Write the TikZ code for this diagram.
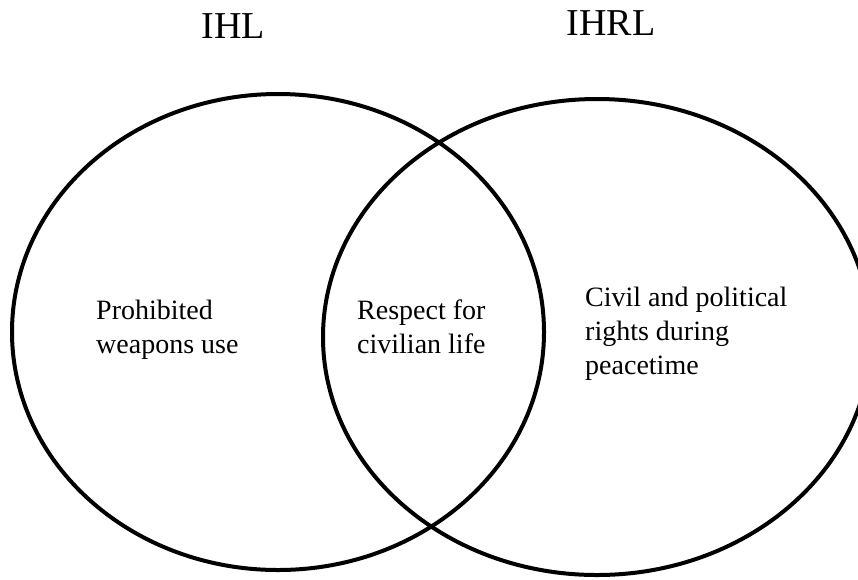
\documentclass[tikz,border=0pt]{standalone}
\usepackage{fontspec}
\setmainfont{Liberation Serif}
\begin{document}
\begin{tikzpicture}[x=1pt,y=-1pt,
  setring/.style={draw=black,line width=4pt},
  titletext/.style={inner sep=0pt,anchor=base,font=\fontsize{38}{44}\selectfont},
  bodytext/.style={inner sep=0pt,anchor=base west,align=left,font=\fontsize{28}{34}\selectfont}]
\useasboundingbox (0,0) rectangle (858,579);
\fill[white] (0,0) rectangle (858,579);
\begin{scope}
\clip (0,0) rectangle (858,579);
\draw[setring] (278,332) ellipse [x radius=266, y radius=238];
\draw[setring] (597,337) ellipse [x radius=274, y radius=238];
\end{scope}
\node[titletext] (ihl) at (233,38) {IHL};
\node[titletext] (ihrl) at (611,35) {IHRL};
\node[bodytext] (left) at (96,353) {Prohibited\\weapons use};
\node[bodytext] (mid) at (357,353) {Respect for\\civilian life};
\node[bodytext] (right) at (585,374) {Civil and political\\rights during\\peacetime};
\end{tikzpicture}
\end{document}
